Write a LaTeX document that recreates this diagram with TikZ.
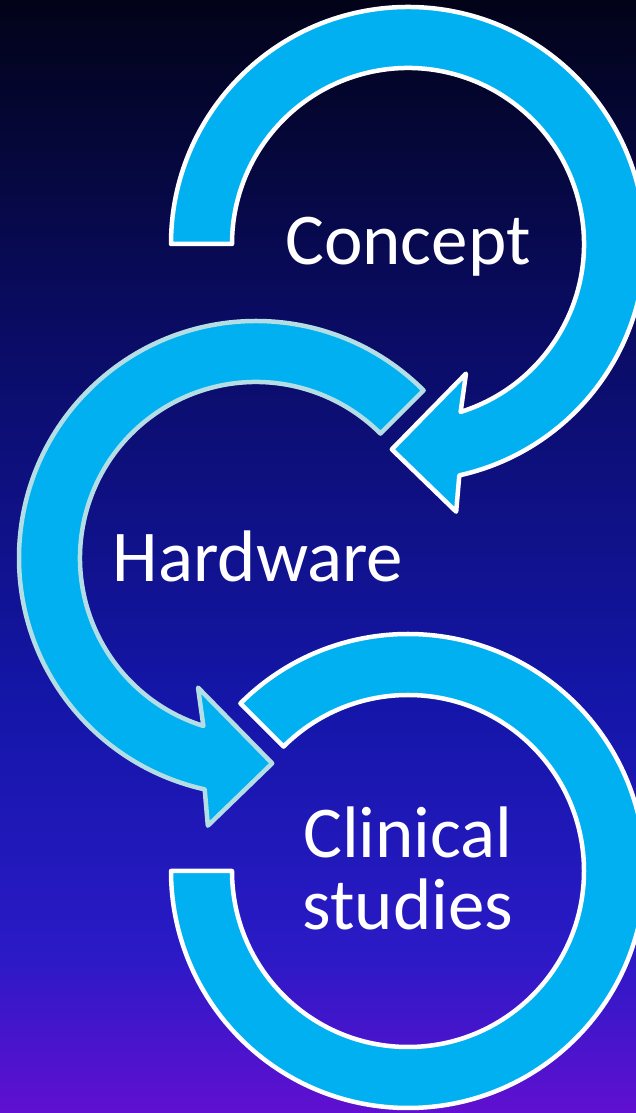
\documentclass[tikz,border=0pt]{standalone}
\usepackage{fontspec}
\setmainfont{Carlito}
\definecolor{arrowcyan}{HTML}{00B0F0}
\definecolor{paleedge}{HTML}{B4DEE6}
\definecolor{bgtop}{HTML}{020318}
\definecolor{bgnavy}{HTML}{090B5E}
\definecolor{bgblue}{HTML}{1416A8}
\definecolor{bgroyal}{HTML}{2A1AC6}
\definecolor{bgpurple}{HTML}{6010D0}

\begin{document}
\begin{tikzpicture}[x=1pt,y=1pt,
    cyclearrow/.style={fill=arrowcyan,draw=white,line width=4.5pt,line join=round},
    steplabel/.style={text=white,font=\fontsize{73}{72}\selectfont,inner sep=0pt,anchor=base}]
    \useasboundingbox (0,0) rectangle (636,1113);
    \shade[top color=bgtop,bottom color=bgnavy] (0,812) rectangle (636,1113);
    \shade[top color=bgnavy,bottom color=bgblue] (0,412) rectangle (636,813);
    \shade[top color=bgblue,bottom color=bgroyal] (0,162) rectangle (636,413);
    \shade[top color=bgroyal,bottom color=bgpurple] (0,0) rectangle (636,163);
    \coordinate (c1) at (408,869);
    \coordinate (c2) at (256,555);
    \coordinate (c3) at (408,242);
    % concept
    \draw[cyclearrow] ([shift={(c1)}]180:237) arc[start angle=180,end angle=-77.5,radius=237]
        -- ([shift={(c1)}]-79.8:272) -- ([shift={(c1)}]-94.5:206) -- ([shift={(c1)}]-65.9:142)
        -- ([shift={(c1)}]-72.6:176) arc[start angle=-72.6,end angle=180,radius=176] -- cycle;
    % hardware
    \draw[cyclearrow,draw=paleedge] ([shift={(c2)}]45:237) arc[start angle=45,end angle=257.5,radius=237]
        -- ([shift={(c2)}]259.8:272) -- ([shift={(c2)}]274.5:206) -- ([shift={(c2)}]245.9:142)
        -- ([shift={(c2)}]252.6:176) arc[start angle=252.6,end angle=45,radius=176] -- cycle;
    % clinical studies
    \draw[cyclearrow] ([shift={(c3)}]135:237) arc[start angle=135,end angle=-180,radius=237]
        -- ([shift={(c3)}]180:176) arc[start angle=-180,end angle=135,radius=176] -- cycle;
    \node[steplabel] (concept) at (408,848) {Concept};
    \node[steplabel] (hardware) at (258,531) {Hardware};
    \node[steplabel,align=center] (clinical) at (408,183) {Clinical\\studies};
\end{tikzpicture}
\end{document}
